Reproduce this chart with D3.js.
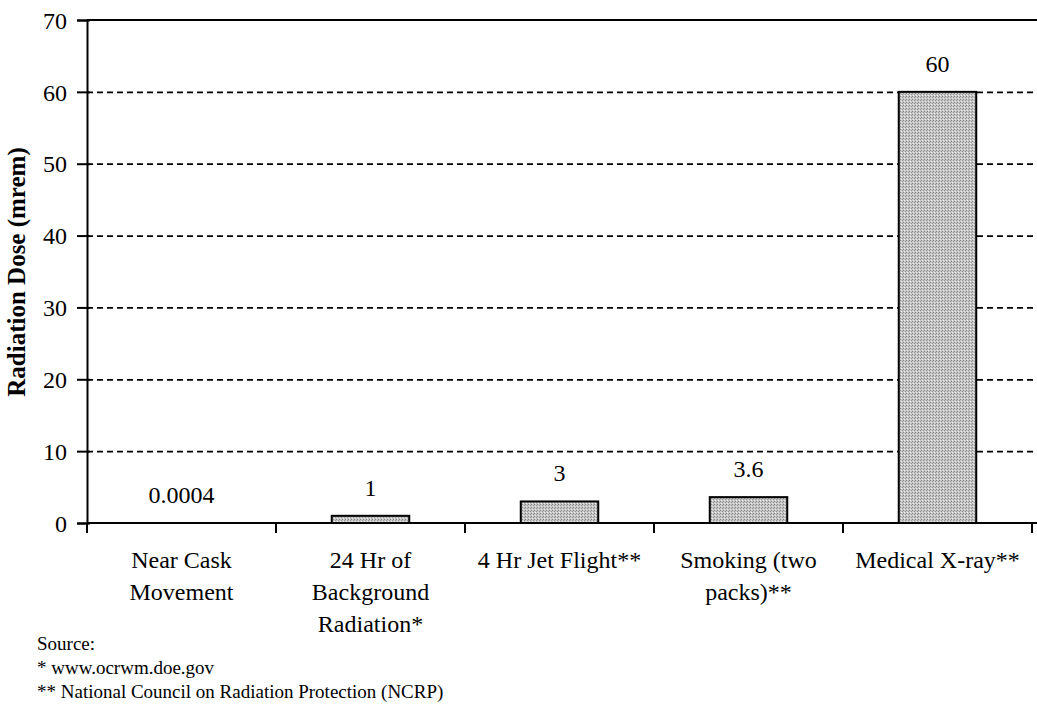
<!DOCTYPE html>
<html>
<head>
  <meta charset='utf-8'/>
  <script src="https://d3js.org/d3.v7.min.js"></script>
  <style>
body { margin: 0; background: #fff; }
text { font-family: "Liberation Serif", "Times New Roman", serif; fill: #000; }
.tick text { font-size: 24px; font-family: "Liberation Serif", serif; }
.val { font-size: 24px; text-anchor: middle; }
.src { font-size: 19px; }
  </style>
</head>
<body>
<svg width="1037" height="707"></svg>
<script>

var categories = [
  ["Near Cask", "Movement"],
  ["24 Hr of", "Background", "Radiation*"],
  ["4 Hr Jet Flight**"],
  ["Smoking (two", "packs)**"],
  ["Medical X-ray**"]
];
var doses = [0.0004, 1, 3, 3.6, 60];
var doseLabels = ["0.0004", "1", "3", "3.6", "60"];
var yTicks = [0, 10, 20, 30, 40, 50, 60, 70];
var sources = ["Source:", "* www.ocrwm.doe.gov", "** National Council on Radiation Protection (NCRP)"];

var svg = d3.select("svg"),
    plotL = 87, plotR = 1032, plotT = 20, plotB = 523;

var x = d3.scaleBand()
    .domain(d3.range(categories.length))
    .range([plotL, plotR])
    .paddingInner(0.59)
    .paddingOuter(0.295);

var xb = d3.scaleBand().domain(d3.range(categories.length)).range([plotL, plotR]);

var y = d3.scaleLinear().domain([0, 70]).range([plotB, plotT]);

// grey dither for the bars
var defs = svg.append("defs");
var pat = defs.append("pattern").attr("id", "dither")
    .attr("width", 3).attr("height", 3).attr("patternUnits", "userSpaceOnUse");
pat.append("rect").attr("width", 3).attr("height", 3).attr("fill", "#c4c4c4");
pat.append("rect").attr("width", 1).attr("height", 1).attr("fill", "#888");
pat.append("rect").attr("x", 2).attr("y", 1).attr("width", 1).attr("height", 1).attr("fill", "#999");
pat.append("rect").attr("x", 1).attr("y", 2).attr("width", 1).attr("height", 1).attr("fill", "#eee");

// dashed grid
svg.append("g").selectAll("line")
  .data(yTicks.filter(function(d) { return d > 0 && d < 70; }))
  .enter().append("line")
    .attr("x1", plotL).attr("x2", 1037)
    .attr("y1", function(d) { return y(d) + 0.5; })
    .attr("y2", function(d) { return y(d) + 0.5; })
    .attr("stroke", "#000").attr("stroke-width", 1.8)
    .attr("stroke-dasharray", "6,4");

// top border
svg.append("line")
    .attr("x1", plotL).attr("x2", 1037)
    .attr("y1", y(70)).attr("y2", y(70))
    .attr("stroke", "#000").attr("stroke-width", 2);

// bars
svg.append("g").selectAll("rect")
  .data(doses)
  .enter().append("rect")
    .attr("x", function(d, i) { return x(i); })
    .attr("width", x.bandwidth())
    .attr("y", function(d) { return y(d); })
    .attr("height", function(d) { return y(0) - y(d); })
    .attr("fill", "url(#dither)")
    .attr("stroke", function(d) { return d < 0.01 ? "none" : "#000"; })
    .attr("stroke-width", 2);

// value labels
svg.append("g").selectAll("text")
  .data(doses)
  .enter().append("text")
    .attr("class", "val")
    .attr("x", function(d, i) { return x(i) + x.bandwidth() / 2; })
    .attr("y", function(d) { return y(d) - 20; })
    .text(function(d, i) { return doseLabels[i]; });

// y axis
var yAxis = svg.append("g")
    .attr("transform", "translate(" + plotL + ",0)")
    .call(d3.axisLeft(y).tickValues(yTicks).tickSize(10).tickPadding(10));
yAxis.select(".domain").attr("stroke-width", 2);
yAxis.selectAll(".tick line").attr("stroke-width", 2).attr("x2", -10).attr("x1", 3);
yAxis.selectAll(".tick text").attr("dy", "0.34em");

// x axis
var xAxis = svg.append("g")
    .attr("transform", "translate(0," + plotB + ")");
xAxis.append("line")
    .attr("x1", plotL).attr("x2", 1037)
    .attr("stroke", "#000").attr("stroke-width", 2);
xAxis.selectAll(".xt")
  .data(d3.range(categories.length + 1))
  .enter().append("line")
    .attr("x1", function(i) { return plotL + i * xb.bandwidth(); })
    .attr("x2", function(i) { return plotL + i * xb.bandwidth(); })
    .attr("y1", 0).attr("y2", 10)
    .attr("stroke", "#000").attr("stroke-width", 2);

var labels = xAxis.selectAll(".xl")
  .data(categories)
  .enter().append("text")
    .attr("text-anchor", "middle")
    .attr("font-size", 24);
labels.selectAll("tspan")
  .data(function(d, i) { return d.map(function(t) { return {t: t, i: i}; }); })
  .enter().append("tspan")
    .attr("x", function(d) { return xb(d.i) + xb.bandwidth() / 2; })
    .attr("y", function(d, j) { return 45 + j * 32; })
    .text(function(d) { return d.t; });

// y title
svg.append("text")
    .attr("transform", "translate(25," + 272 + ") rotate(-90)")
    .attr("text-anchor", "middle")
    .attr("font-size", 25).attr("font-weight", "bold")
    .text("Radiation Dose (mrem)");

// sources
svg.append("g").selectAll("text")
  .data(sources)
  .enter().append("text")
    .attr("class", "src")
    .attr("x", 37)
    .attr("y", function(d, i) { return 650 + i * 24; })
    .text(function(d) { return d; });

</script>
</body>
</html>
